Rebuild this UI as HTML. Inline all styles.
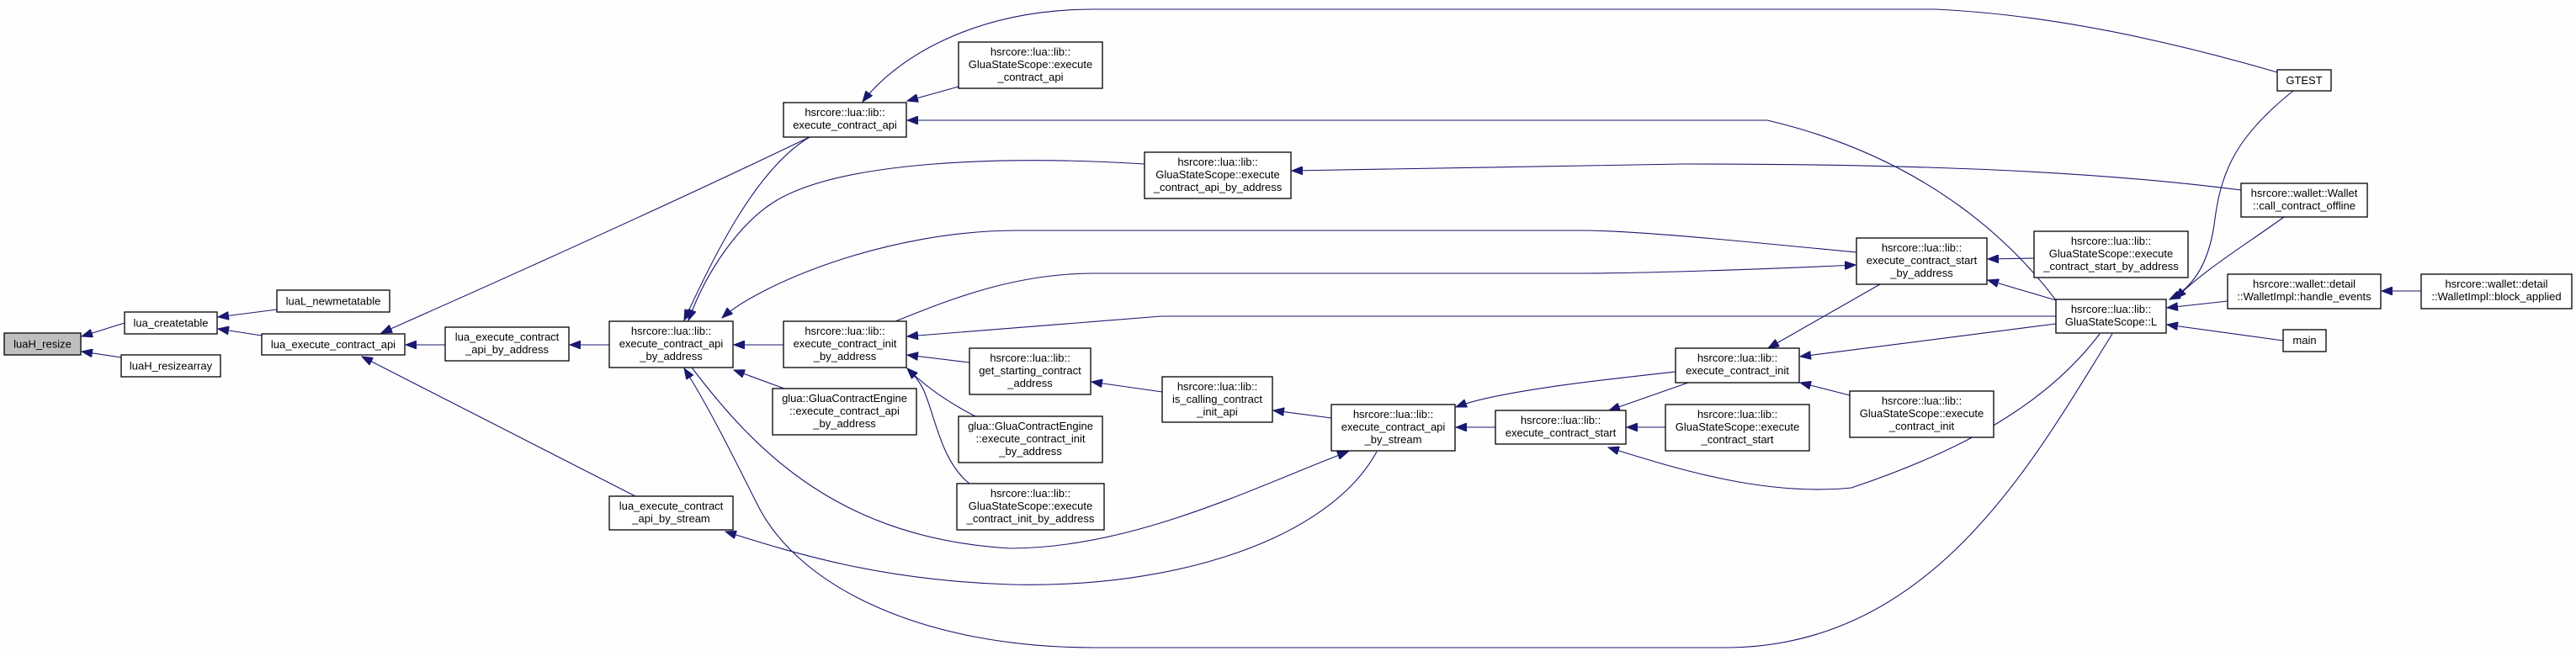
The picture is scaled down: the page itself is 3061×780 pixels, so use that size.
<!DOCTYPE html>
<html><head><meta charset="utf-8"><style>
html,body{margin:0;padding:0;background:#fff;}
svg{display:block;}
text{font-family:"Liberation Sans",sans-serif;font-size:13px;fill:#000;text-anchor:middle;}
.b{fill:#fff;stroke:#000;stroke-width:1.3;}
.e{fill:none;stroke:#191970;stroke-width:1.1;marker-end:url(#a);}
</style></head><body>
<svg width="3061" height="780" viewBox="0 0 3061 780" xmlns="http://www.w3.org/2000/svg">
<defs><marker id="a" markerUnits="userSpaceOnUse" markerWidth="14" markerHeight="10" refX="13" refY="5" orient="auto"><path d="M0,0 L13,5 L0,10 z" fill="#191970" stroke="#191970"/></marker></defs>
<rect width="3061" height="780" fill="#fefefe"/>
<g>
<path class="e" d="M148,384 L97,400"/>
<path class="e" d="M144,425 L97,418"/>
<path class="e" d="M329,368 L259,377"/>
<path class="e" d="M311,399 L259,391"/>
<path class="e" d="M529,410 L482,410"/>
<path class="e" d="M962,163 Q760,260 453,396"/>
<path class="e" d="M755,590 L430,424"/>
<path class="e" d="M724,410 L677,410"/>
<path class="e" d="M962,163 C900,200 850,300 813,381"/>
<path class="e" d="M1360,195 C1200,185 1000,190 920,240 C880,265 840,320 818,381"/>
<path class="e" d="M2206,300 C2100,290 1950,274 1880,274 L1210,274 C1050,274 900,340 858,378"/>
<path class="e" d="M931,410 L872,410"/>
<path class="e" d="M932,462 L872,440"/>
<path class="e" d="M822,437 C900,540 1000,640 1200,652 C1350,652 1500,575 1602,537"/>
<path class="e" d="M2510,397 C2420,540 2300,770 2050,770 L1300,770 C1100,770 950,700 900,600 C870,540 840,480 813,438"/>
<path class="e" d="M1636,537 C1580,640 1400,700 1200,695 C1050,690 950,660 862,632"/>
<path class="e" d="M1139,103 L1078,120"/>
<path class="e" d="M2706,86 C2600,55 2450,18 2300,11 L1300,11 C1150,11 1060,75 1025,121"/>
<path class="e" d="M2443,357 C2400,300 2300,190 2100,143 L1078,143"/>
<path class="e" d="M2663,226 C2500,205 2300,195 2000,195 L1535,203"/>
<path class="e" d="M2443,376 L1380,376 L1078,400"/>
<path class="e" d="M1064,382 C1120,360 1200,325 1300,325 L1880,325 C1950,325 2100,320 2205,315"/>
<path class="e" d="M1152,431 L1078,422"/>
<path class="e" d="M1159,495 C1120,475 1095,455 1078,438"/>
<path class="e" d="M1152,575 C1120,550 1112,500 1100,470 C1095,455 1085,445 1078,438"/>
<path class="e" d="M1381,466 L1297,454"/>
<path class="e" d="M1582,497 L1513,488"/>
<path class="e" d="M1777,508 L1730,508"/>
<path class="e" d="M1991,442 C1900,452 1780,465 1730,484"/>
<path class="e" d="M2006,455 L1912,488"/>
<path class="e" d="M1979,508 L1933,508"/>
<path class="e" d="M2198,470 L2139,455"/>
<path class="e" d="M2234,338 L2101,414"/>
<path class="e" d="M2443,385 L2139,424"/>
<path class="e" d="M2495,397 C2440,470 2350,530 2200,580 C2100,590 2000,560 1911,532"/>
<path class="e" d="M2443,357 L2362,333"/>
<path class="e" d="M2417,307 L2362,308"/>
<path class="e" d="M2725,108 C2660,160 2640,200 2632,260 C2625,320 2600,345 2578,356"/>
<path class="e" d="M2714,258 C2670,290 2620,320 2585,355"/>
<path class="e" d="M2647,358 L2575,366"/>
<path class="e" d="M2713,405 L2575,386"/>
<path class="e" d="M2877,346 L2830,346"/>
</g>
<g>
<rect x="5" y="396" width="91" height="26" fill="#bfbfbf" stroke="#000" stroke-width="1.3"/><text x="50.5" y="413.5">luaH_resize</text>
<rect class="b" x="148" y="371" width="110" height="26"/><text x="203" y="388.5">lua_createtable</text>
<rect class="b" x="144" y="422" width="118" height="26"/><text x="203" y="439.5">luaH_resizearray</text>
<rect class="b" x="329" y="345" width="134" height="26"/><text x="396" y="362.5">luaL_newmetatable</text>
<rect class="b" x="311" y="397" width="170" height="25"/><text x="396" y="414">lua_execute_contract_api</text>
<rect class="b" x="529" y="389" width="147" height="40"/><text x="602.5" y="405">lua_execute_contract</text><text x="602.5" y="420">_api_by_address</text>
<rect class="b" x="724" y="382" width="147" height="55"/><text x="797.5" y="398">hsrcore::lua::lib::</text><text x="797.5" y="413">execute_contract_api</text><text x="797.5" y="428">_by_address</text>
<rect class="b" x="724" y="590" width="147" height="40"/><text x="797.5" y="606">lua_execute_contract</text><text x="797.5" y="621">_api_by_stream</text>
<rect class="b" x="931" y="122" width="146" height="41"/><text x="1004" y="138">hsrcore::lua::lib::</text><text x="1004" y="153">execute_contract_api</text>
<rect class="b" x="1139" y="50" width="171" height="55"/><text x="1224.5" y="66">hsrcore::lua::lib::</text><text x="1224.5" y="81">GluaStateScope::execute</text><text x="1224.5" y="96">_contract_api</text>
<rect class="b" x="1360" y="181" width="174" height="55"/><text x="1447" y="197">hsrcore::lua::lib::</text><text x="1447" y="212">GluaStateScope::execute</text><text x="1447" y="227">_contract_api_by_address</text>
<rect class="b" x="931" y="382" width="146" height="55"/><text x="1004" y="398">hsrcore::lua::lib::</text><text x="1004" y="413">execute_contract_init</text><text x="1004" y="428">_by_address</text>
<rect class="b" x="918" y="462" width="171" height="55"/><text x="1003.5" y="478">glua::GluaContractEngine</text><text x="1003.5" y="493">::execute_contract_api</text><text x="1003.5" y="508">_by_address</text>
<rect class="b" x="1152" y="414" width="144" height="55"/><text x="1224" y="430">hsrcore::lua::lib::</text><text x="1224" y="445">get_starting_contract</text><text x="1224" y="460">_address</text>
<rect class="b" x="1139" y="495" width="171" height="55"/><text x="1224.5" y="511">glua::GluaContractEngine</text><text x="1224.5" y="526">::execute_contract_init</text><text x="1224.5" y="541">_by_address</text>
<rect class="b" x="1137" y="575" width="175" height="55"/><text x="1224.5" y="591">hsrcore::lua::lib::</text><text x="1224.5" y="606">GluaStateScope::execute</text><text x="1224.5" y="621">_contract_init_by_address</text>
<rect class="b" x="1381" y="448" width="131" height="54"/><text x="1446.5" y="464">hsrcore::lua::lib::</text><text x="1446.5" y="479">is_calling_contract</text><text x="1446.5" y="494">_init_api</text>
<rect class="b" x="1582" y="481" width="147" height="55"/><text x="1655.5" y="497">hsrcore::lua::lib::</text><text x="1655.5" y="512">execute_contract_api</text><text x="1655.5" y="527">_by_stream</text>
<rect class="b" x="2206" y="283" width="155" height="55"/><text x="2283.5" y="299">hsrcore::lua::lib::</text><text x="2283.5" y="314">execute_contract_start</text><text x="2283.5" y="329">_by_address</text>
<rect class="b" x="1991" y="414" width="147" height="41"/><text x="2064.5" y="430">hsrcore::lua::lib::</text><text x="2064.5" y="445">execute_contract_init</text>
<rect class="b" x="1777" y="488" width="155" height="40"/><text x="1854.5" y="504">hsrcore::lua::lib::</text><text x="1854.5" y="519">execute_contract_start</text>
<rect class="b" x="1979" y="481" width="171" height="55"/><text x="2064.5" y="497">hsrcore::lua::lib::</text><text x="2064.5" y="512">GluaStateScope::execute</text><text x="2064.5" y="527">_contract_start</text>
<rect class="b" x="2198" y="465" width="171" height="55"/><text x="2283.5" y="481">hsrcore::lua::lib::</text><text x="2283.5" y="496">GluaStateScope::execute</text><text x="2283.5" y="511">_contract_init</text>
<rect class="b" x="2706" y="83" width="64" height="25"/><text x="2738" y="100">GTEST</text>
<rect class="b" x="2663" y="218" width="150" height="40"/><text x="2738" y="234">hsrcore::wallet::Wallet</text><text x="2738" y="249">::call_contract_offline</text>
<rect class="b" x="2417" y="275" width="183" height="55"/><text x="2508.5" y="291">hsrcore::lua::lib::</text><text x="2508.5" y="306">GluaStateScope::execute</text><text x="2508.5" y="321">_contract_start_by_address</text>
<rect class="b" x="2443" y="356" width="131" height="40"/><text x="2508.5" y="372">hsrcore::lua::lib::</text><text x="2508.5" y="387">GluaStateScope::L</text>
<rect class="b" x="2647" y="326" width="182" height="41"/><text x="2738" y="342">hsrcore::wallet::detail</text><text x="2738" y="357">::WalletImpl::handle_events</text>
<rect class="b" x="2877" y="326" width="179" height="41"/><text x="2966.5" y="342">hsrcore::wallet::detail</text><text x="2966.5" y="357">::WalletImpl::block_applied</text>
<rect class="b" x="2713" y="392" width="51" height="26"/><text x="2738.5" y="409">main</text>
</g>
</svg>
</body></html>
